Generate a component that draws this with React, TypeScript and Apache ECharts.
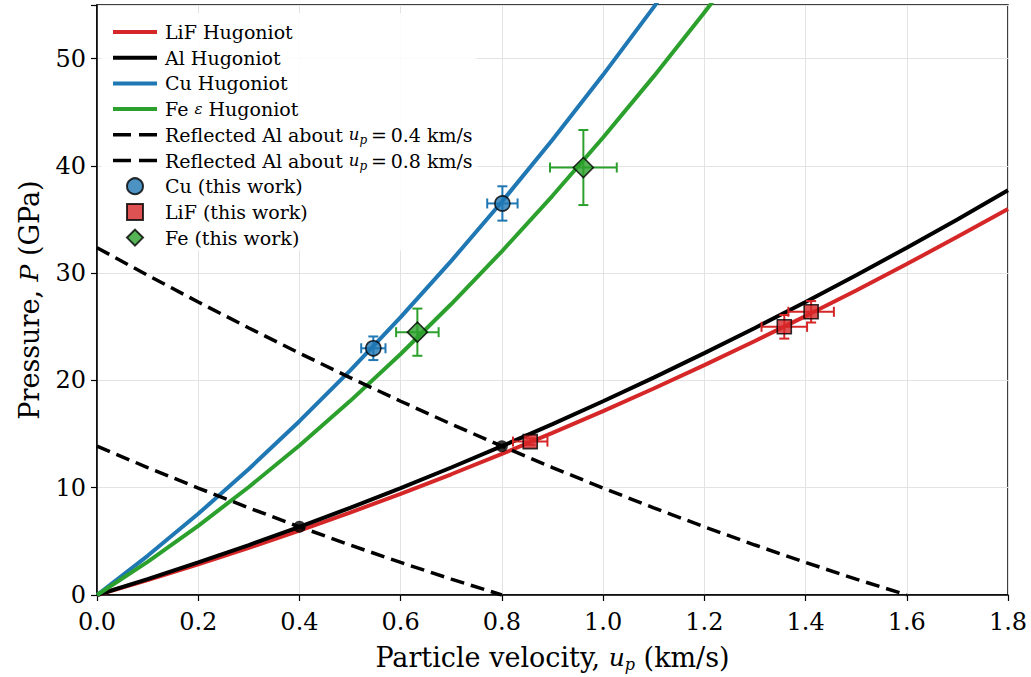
import React, { useEffect, useRef } from "react";
import * as echarts from "echarts";

// ---- Data ----
const upGrid = [0, 0.1, 0.2, 0.3, 0.4, 0.5, 0.6, 0.7, 0.8, 0.9, 1.0, 1.1, 1.2, 1.3, 1.4, 1.5, 1.6, 1.7, 1.8];
const lifP = [0, 1.394, 2.86, 4.396, 6.004, 7.683, 9.433, 11.255, 13.148, 15.112, 17.147, 19.254, 21.431, 23.68, 26.0, 28.391, 30.854, 33.387, 35.992];
const alP = [0, 1.481, 3.034, 4.659, 6.357, 8.127, 9.969, 11.884, 13.872, 15.931, 18.063, 20.267, 22.544, 24.893, 27.314, 29.808, 32.374, 35.013, 37.723];

const cuUp = [0, 0.1, 0.2, 0.3, 0.4, 0.5, 0.6, 0.7, 0.8, 0.9, 1.0, 1.1, 1.2];
const cuP = [0, 3.651, 7.569, 11.753, 16.203, 20.919, 25.901, 31.149, 36.663, 42.443, 48.49, 54.803, 61.381];

const feUp = [0, 0.1, 0.2, 0.3, 0.4, 0.5, 0.6, 0.7, 0.8, 0.9, 1.0, 1.1, 1.2, 1.3];
const feP = [0, 3.095, 6.45, 10.065, 13.94, 18.075, 22.47, 27.125, 32.04, 37.215, 42.65, 48.345, 54.3, 60.515];

const refl04Up = [0, 0.1, 0.2, 0.3, 0.4, 0.5, 0.6, 0.7, 0.8];
const refl04P = [13.872, 11.884, 9.969, 8.127, 6.357, 4.659, 3.034, 1.481, 0];

const refl08Up = [0, 0.1, 0.2, 0.3, 0.4, 0.5, 0.6, 0.7, 0.8, 0.9, 1.0, 1.1, 1.2, 1.3, 1.4, 1.5, 1.6];
const refl08P = [32.374, 29.808, 27.314, 24.893, 22.544, 20.267, 18.063, 15.931, 13.872, 11.884, 9.969, 8.127, 6.357, 4.659, 3.034, 1.481, 0];

const crossUp = [0.4, 0.8];
const crossP = [6.357, 13.872];

const cuPtUp = [0.546, 0.801];
const cuPtP = [23.0, 36.5];
const cuPtUpErr = [0.024, 0.03];
const cuPtPErr = [1.1, 1.6];

const lifPtUp = [0.856, 1.358, 1.411];
const lifPtP = [14.3, 25.0, 26.4];
const lifPtUpErr = [0.034, 0.045, 0.045];
const lifPtPErr = [0.3, 1.1, 1.0];

const fePtUp = [0.633, 0.961];
const fePtP = [24.5, 39.85];
const fePtUpErr = [0.042, 0.066];
const fePtPErr = [2.2, 3.5];

const RED = "#d62728";
const BLUE = "#1f77b4";
const GREEN = "#2ca02c";
const BLACK = "#000000";
const FONT = "DejaVu Serif";

const ICON_SOLID = "path://M0,0H44V4H0Z";
const ICON_DASH = "path://M0,0H18V3.5H0Z M26,0H44V3.5H26Z";
const ICON_SQUARE = "path://M0,0H10V10H0Z";
const ICON_DIAMOND = "path://M5,0L10,5L5,10L0,5Z";

const zip = (a: number[], b: number[]) => a.map((v, i) => [v, b[i]]);
const zip4 = (a: number[], b: number[], c: number[], d: number[]) => a.map((v, i) => [v, b[i], c[i], d[i]]);

const errRender = (color: string) => (params: any, api: any) => {
  const x = api.value(0), y = api.value(1), ex = api.value(2), ey = api.value(3);
  const l = api.coord([x - ex, y]);
  const r = api.coord([x + ex, y]);
  const t = api.coord([x, y + ey]);
  const b = api.coord([x, y - ey]);
  const cap = 5;
  const style = { stroke: color, lineWidth: 2 };
  const ln = (x1: number, y1: number, x2: number, y2: number) => ({
    type: "line",
    shape: { x1, y1, x2, y2 },
    style,
  });
  return {
    type: "group",
    children: [
      ln(l[0], l[1], r[0], r[1]),
      ln(l[0], l[1] - cap, l[0], l[1] + cap),
      ln(r[0], r[1] - cap, r[0], r[1] + cap),
      ln(t[0], t[1], b[0], b[1]),
      ln(t[0] - cap, t[1], t[0] + cap, t[1]),
      ln(b[0] - cap, b[1], b[0] + cap, b[1]),
    ],
  };
};

const LFS = 19;
const richBase = {
  n: { fontFamily: FONT, fontSize: LFS, color: BLACK, lineHeight: 22 },
  i: { fontFamily: FONT, fontSize: 16.5, fontStyle: "italic", color: BLACK, lineHeight: 22 },
  sub: { fontFamily: FONT, fontSize: 12, fontStyle: "italic", color: BLACK, lineHeight: 12, verticalAlign: "bottom" },
  eps: { fontFamily: FONT, fontSize: 15, fontStyle: "italic", color: BLACK, lineHeight: 22 },
};

const legendLabels: Record<string, string> = {
  "LiF Hugoniot": "{n|LiF Hugoniot}",
  "Al Hugoniot": "{n|Al Hugoniot}",
  "Cu Hugoniot": "{n|Cu Hugoniot}",
  "Fe ε Hugoniot": "{n|Fe }{eps|ε}{n| Hugoniot}",
  "Reflected Al about up=0.4 km/s": "{n|Reflected Al about }{i|u}{sub|p}{n|\u2009=\u20090.4 km/s}",
  "Reflected Al about up=0.8 km/s": "{n|Reflected Al about }{i|u}{sub|p}{n|\u2009=\u20090.8 km/s}",
  "Cu (this work)": "{n|Cu (this work)}",
  "LiF (this work)": "{n|LiF (this work)}",
  "Fe (this work)": "{n|Fe (this work)}",
};

export default function App() {
  const ref = useRef<HTMLDivElement>(null);
  useEffect(() => {
    document.body.style.margin = "0";
    if (!ref.current) return;
    const chart = echarts.init(ref.current, undefined, { renderer: "svg" });
    const lineSeries = (name: string, data: number[][], color: string, width: number, dashed = false, z = 2) => ({
      name,
      type: "line",
      data,
      symbol: "none",
      showSymbol: false,
      smooth: false,
      clip: true,
      z,
      lineStyle: { color, width, type: dashed ? [14, 7] : "solid" },
      itemStyle: { color },
    });
    const nameRich = {
      n: { fontFamily: FONT, fontSize: 27, color: BLACK, lineHeight: 30 },
      i: { fontFamily: FONT, fontSize: 25, fontStyle: "italic", color: BLACK, lineHeight: 30 },
      sub: { fontFamily: FONT, fontSize: 16, fontStyle: "italic", color: BLACK, lineHeight: 16, verticalAlign: "bottom" },
    };
    const option: any = {
      animation: false,
      backgroundColor: "#ffffff",
      grid: {
        left: 97,
        right: 23,
        top: 5,
        bottom: 80,
        show: true,
        borderColor: BLACK,
        borderWidth: 1.5,
        backgroundColor: "transparent",
      },
      legend: {
        orient: "vertical",
        left: 101,
        top: 13,
        z: 1,
        padding: [8, 4, 2, 12],
        itemWidth: 44,
        itemHeight: 16,
        itemGap: 3.7,
        backgroundColor: "rgba(255,255,255,0.85)",
        selectedMode: false,
        textStyle: { fontFamily: FONT, fontSize: LFS, color: BLACK, lineHeight: 22, padding: [0, 0, 0, 3], rich: richBase },
        formatter: (name: string) => legendLabels[name] || name,
        data: [
          { name: "LiF Hugoniot", icon: ICON_SOLID },
          { name: "Al Hugoniot", icon: ICON_SOLID },
          { name: "Cu Hugoniot", icon: ICON_SOLID },
          { name: "Fe ε Hugoniot", icon: ICON_SOLID },
          { name: "Reflected Al about up=0.4 km/s", icon: ICON_DASH },
          { name: "Reflected Al about up=0.8 km/s", icon: ICON_DASH },
          { name: "Cu (this work)", icon: "circle" },
          { name: "LiF (this work)", icon: ICON_SQUARE },
          { name: "Fe (this work)", icon: ICON_DIAMOND },
        ],
      },
      xAxis: {
        type: "value",
        min: 0,
        max: 1.8,
        interval: 0.2,
        name: "{n|Particle velocity, }{i|u}{sub|p}{n| (km/s)}",
        nameLocation: "middle",
        nameGap: 47,
        nameTextStyle: { fontFamily: FONT, fontSize: 27, color: BLACK, rich: nameRich },
        axisLine: { show: true, lineStyle: { color: BLACK, width: 1.5 } },
        axisTick: { show: true, inside: false, length: 6, lineStyle: { color: BLACK, width: 1.2 } },
        axisLabel: {
          fontFamily: FONT,
          fontSize: 24,
          color: BLACK,
          margin: 15,
          formatter: (v: number) => v.toFixed(1),
        },
        splitLine: { show: true, lineStyle: { color: "#e3e3e3", width: 1 } },
      },
      yAxis: {
        type: "value",
        min: 0,
        max: 55,
        interval: 10,
        name: "{n|Pressure, }{i|P}{n| (GPa)}",
        nameLocation: "middle",
        nameGap: 53,
        nameRotate: 90,
        nameTextStyle: { fontFamily: FONT, fontSize: 27, color: BLACK, rich: nameRich },
        axisLine: { show: true, lineStyle: { color: BLACK, width: 1.5 } },
        axisTick: { show: true, inside: false, length: 6, lineStyle: { color: BLACK, width: 1.2 } },
        axisLabel: {
          fontFamily: FONT,
          fontSize: 24,
          color: BLACK,
          margin: 11,
          formatter: (v: number) => (v > 50 ? "" : String(v)),
        },
        splitLine: { show: true, lineStyle: { color: "#e3e3e3", width: 1 } },
      },
      series: [
        lineSeries("LiF Hugoniot", zip(upGrid, lifP), RED, 4),
        lineSeries("Al Hugoniot", zip(upGrid, alP), BLACK, 4),
        lineSeries("Cu Hugoniot", zip(cuUp, cuP), BLUE, 4),
        lineSeries("Fe ε Hugoniot", zip(feUp, feP), GREEN, 4),
        lineSeries("Reflected Al about up=0.4 km/s", zip(refl04Up, refl04P), BLACK, 3.5, true),
        lineSeries("Reflected Al about up=0.8 km/s", zip(refl08Up, refl08P), BLACK, 3.5, true),
        {
          name: "crossings",
          type: "scatter",
          data: zip(crossUp, crossP),
          symbol: "circle",
          symbolSize: 12,
          itemStyle: { color: BLACK },
          z: 3,
        },
        {
          name: "Cu err",
          type: "custom",
          data: zip4(cuPtUp, cuPtP, cuPtUpErr, cuPtPErr),
          encode: { x: 0, y: 1 },
          renderItem: errRender(BLUE),
          z: 4,
        },
        {
          name: "LiF err",
          type: "custom",
          data: zip4(lifPtUp, lifPtP, lifPtUpErr, lifPtPErr),
          encode: { x: 0, y: 1 },
          renderItem: errRender(RED),
          z: 4,
        },
        {
          name: "Fe err",
          type: "custom",
          data: zip4(fePtUp, fePtP, fePtUpErr, fePtPErr),
          encode: { x: 0, y: 1 },
          renderItem: errRender(GREEN),
          z: 4,
        },
        {
          name: "Cu (this work)",
          type: "scatter",
          data: zip(cuPtUp, cuPtP),
          symbol: "circle",
          symbolSize: 15,
          itemStyle: { color: BLUE, borderColor: BLACK, borderWidth: 1.6 },
          z: 5,
        },
        {
          name: "LiF (this work)",
          type: "scatter",
          data: zip(lifPtUp, lifPtP),
          symbol: "rect",
          symbolSize: 14,
          itemStyle: { color: RED, borderColor: BLACK, borderWidth: 1.6 },
          z: 5,
        },
        {
          name: "Fe (this work)",
          type: "scatter",
          data: zip(fePtUp, fePtP),
          symbol: "diamond",
          symbolSize: 20,
          itemStyle: { color: GREEN, borderColor: BLACK, borderWidth: 1.6 },
          z: 5,
        },
      ],
    };
    chart.setOption(option);
    return () => chart.dispose();
  }, []);
  return <div ref={ref} style={{ width: 1031, height: 677 }} />;
}
